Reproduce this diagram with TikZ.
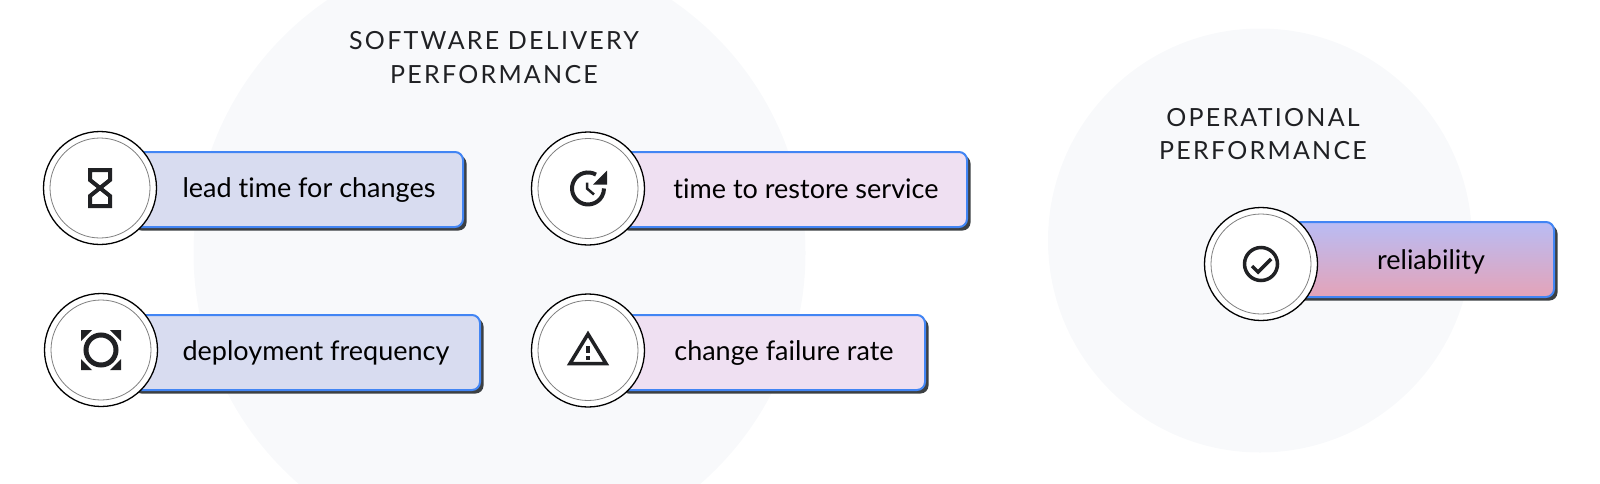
\documentclass[tikz,border=0pt]{standalone}
\usepackage{fontspec}
\setmainfont[Ligatures=NoCommon]{Lato}
\newfontfamily\headfont[LetterSpace=9]{Lato}
\pgfdeclarelayer{background}
\pgfdeclarelayer{foreground}
\pgfsetlayers{background,main,foreground}
\definecolor{discgray}{HTML}{F8F9FB}
\definecolor{barblue}{HTML}{4285F4}
\definecolor{barshadow}{HTML}{3C4043}
\definecolor{barlilac}{HTML}{D8DCF0}
\definecolor{barpink}{HTML}{EFE0F2}
\definecolor{barperi}{HTML}{B9BCF4}
\definecolor{barrose}{HTML}{E4A3B8}
\definecolor{icondark}{HTML}{202124}
\tikzset{
  bgdisc/.style={circle,fill=discgray,inner sep=0pt},
  headtext/.style={align=center,text=icondark,font=\headfont\fontsize{25}{33.5}\selectfont},
  barbox/.style={draw=barblue,line width=2pt,rounded corners=8pt},
  barback/.style={fill=barshadow,rounded corners=8pt},
  bartext/.style={text=black,font=\fontsize{27}{30}\selectfont},
  iconring/.style={circle,draw=black,line width=1.3pt,fill=white,minimum size=113pt,inner sep=0pt},
  iconinner/.style={circle,draw=gray,line width=0.8pt,minimum size=100pt,inner sep=0pt},
  iconline/.style={draw=icondark,line width=4pt},
  iconfill/.style={fill=icondark}
}
\begin{document}
\begin{tikzpicture}[x=1pt,y=-1pt]
\useasboundingbox (0,0) rectangle (1600,483);
\begin{pgfonlayer}{background}
\node[bgdisc,minimum size=612pt] (softwaredisc) at (499.5,253) {};
\node[bgdisc,minimum size=424pt] (operationdisc) at (1260,240.5) {};
\end{pgfonlayer}
\node[headtext] (softwarehead) at (494,57.5) {SOFTWARE DELIVERY\\PERFORMANCE};
\node[headtext] (operationhead) at (1263,134) {OPERATIONAL\\PERFORMANCE};
\fill[barback] (133.5,155.5) rectangle (466.5,230.5);
\draw[barbox,fill=barlilac] (130,152) rectangle (463,227);
\fill[barback] (133.5,318.5) rectangle (483.5,393.5);
\draw[barbox,fill=barlilac] (130,315) rectangle (480,390);
\fill[barback] (620.5,155.5) rectangle (970.5,230.5);
\draw[barbox,fill=barpink] (617,152) rectangle (967,227);
\fill[barback] (620.5,318.5) rectangle (928.5,393.5);
\draw[barbox,fill=barpink] (617,315) rectangle (925,390);
\fill[barback] (1293.5,225.5) rectangle (1557.5,300.5);
\draw[barbox,top color=barperi,bottom color=barrose] (1290,222) rectangle (1554,297);
\node[bartext] (leadtext) at (309,190) {lead time for changes};
\node[bartext] (deploytext) at (316,353) {deployment frequency};
\node[bartext] (restoretext) at (806,188.5) {time to restore service};
\node[bartext] (failuretext) at (784,353) {change failure rate};
\node[bartext] (reliabletext) at (1431,262) {reliability};
\begin{pgfonlayer}{foreground}
\node[iconring] (leadring) at (100,188) {};
\node[iconinner] (leadinner) at (leadring.center) {};
\draw[iconline,shift={(leadring.center)}] (-10,-18) -- (10,-18) -- (10,-8) -- (0,0) -- (10,8) -- (10,18) -- (-10,18) -- (-10,8) -- (0,0) -- (-10,-8) -- cycle;
\node[iconring] (deployring) at (101,350) {};
\node[iconinner] (deployinner) at (deployring.center) {};
\draw[iconline,line width=5pt] (deployring.center) circle (15);
\fill[iconfill,shift={(deployring.center)}] (-20,-20) -- (-9,-20) -- (-20,-9) -- cycle;
\fill[iconfill,shift={(deployring.center)}] (20,-20) -- (9,-20) -- (20,-9) -- cycle;
\fill[iconfill,shift={(deployring.center)}] (-20,20) -- (-9,20) -- (-20,9) -- cycle;
\fill[iconfill,shift={(deployring.center)}] (20,20) -- (9,20) -- (20,9) -- cycle;
\node[iconring] (restorering) at (588,188.5) {};
\node[iconinner] (restoreinner) at (restorering.center) {};
\draw[iconline,shift={(restorering.center)}] (8,-13.9) arc[start angle=300,end angle=0,radius=16];
\fill[iconfill,shift={(restorering.center)}] (19,-18) -- (19,-4) -- (5,-4) -- cycle;
\draw[iconline,line width=2.5pt,shift={(restorering.center)}] (-1,-6) -- (-1,0) -- (6,6);
\node[iconring] (failurering) at (588,350.5) {};
\node[iconinner] (failureinner) at (failurering.center) {};
\draw[iconline,line width=3.5pt,shift={(failurering.center)}] (0,-16.5) -- (-18,13) -- (18,13) -- cycle;
\fill[iconfill,shift={(failurering.center)}] (-1.7,-5) rectangle (1.7,2);
\fill[iconfill,shift={(failurering.center)}] (-1.7,5) rectangle (1.7,9);
\node[iconring] (reliablering) at (1261,264) {};
\node[iconinner] (reliableinner) at (reliablering.center) {};
\draw[iconline,line width=3.5pt] (reliablering.center) circle (16.5);
\draw[iconline,line width=3.5pt,shift={(reliablering.center)}] (-9,2) -- (-3,8) -- (10,-5);
\end{pgfonlayer}
\end{tikzpicture}
\end{document}
